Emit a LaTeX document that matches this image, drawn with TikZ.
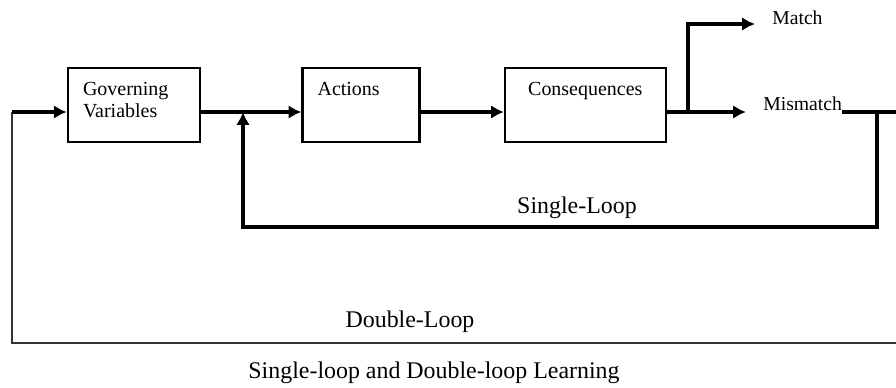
\documentclass[tikz,border=0pt]{standalone}
\usepackage{fontspec}
\setmainfont{Liberation Serif}
\usetikzlibrary{positioning, arrows.meta}
\tikzset{
  box1/.style = {
    shape = rectangle,
    draw = black,
    line width = 1.8pt,
    minimum height = 1.85cm,
    inner sep = 0pt,
  }
}
\tikzset{
  boxtext/.style = {
    anchor = north west,
    align = left,
    inner sep = 0pt,
    yshift = -0.375cm,
    font = \fontsize{14.2}{15.6}\selectfont,
  }
}
\tikzset{
  lbl1/.style = {inner sep = 0pt, font = \fontsize{14}{16}\selectfont},
  lbl2/.style = {inner sep = 0pt, font = \fontsize{17}{19}\selectfont},
}
\tikzset{
  arrow1/.style = {
    draw = black, line width = 2.3pt, -{Latex[length = 3.2mm, width = 3.4mm]},
  }
}
\tikzset{
  line1/.style = {draw = black, line width = 2.3pt},
  line2/.style = {draw = black!80, line width = 1.3pt},
}
\begin{document}
\begin{tikzpicture}[x=0.025cm, y=-0.025cm]
            \useasboundingbox (0,0) rectangle (896,388);
            \coordinate (main) at (0,112);
            \coordinate (sl) at (0,227);
            \coordinate (dl) at (0,343);
            \node[box1, minimum width = 3.3cm, label={[boxtext, xshift = 0.4cm]north west:{Governing\\Variables}}](gv) at (134,105){};
            \node[box1, minimum width = 2.925cm, right=2.5cm of gv, label={[boxtext, xshift = 0.4cm]north west:Actions}](act){};
            \node[box1, minimum width = 4.025cm, right=2.075cm of act, label={[boxtext, xshift = 0.6cm]north west:Consequences}](cons){};
            \node[lbl1, anchor = base west](match) at (772,24){Match};
            \node[lbl1, anchor = base west](mis) at (763,110){Mismatch};
            \node[lbl2](single) at (577,208){Single-Loop};
            \node[lbl2](double) at (410,322){Double-Loop};
            \node[lbl2](caption) at (434,373){Single-loop and Double-loop Learning};
            \coordinate (br) at (688,112);
            \coordinate (slr) at (877,112);
            \coordinate (slj) at (243,112);
            \coordinate (dlj) at (12,112);
            \coordinate (edge1) at (896,112);
            \coordinate (edge2) at (896,343);
            \draw[arrow1](gv.east |- main) -- (act.west |- main);
            \draw[arrow1](act.east |- main) -- (cons.west |- main);
            \draw[arrow1, shorten >= 0.425cm](cons.east |- main) -- (mis.west |- main);
            \draw[arrow1, shorten >= 0.425cm](br) |- (match.base west);
            \draw[line1](mis.east |- main) -- (edge1);
            \draw[arrow1](slr) -- (slr |- sl) -| (slj);
            \draw[line2](edge2) -- (dlj |- dl) -- (dlj);
            \draw[arrow1](dlj) -- (gv.west |- main);
        \end{tikzpicture}
\end{document}
